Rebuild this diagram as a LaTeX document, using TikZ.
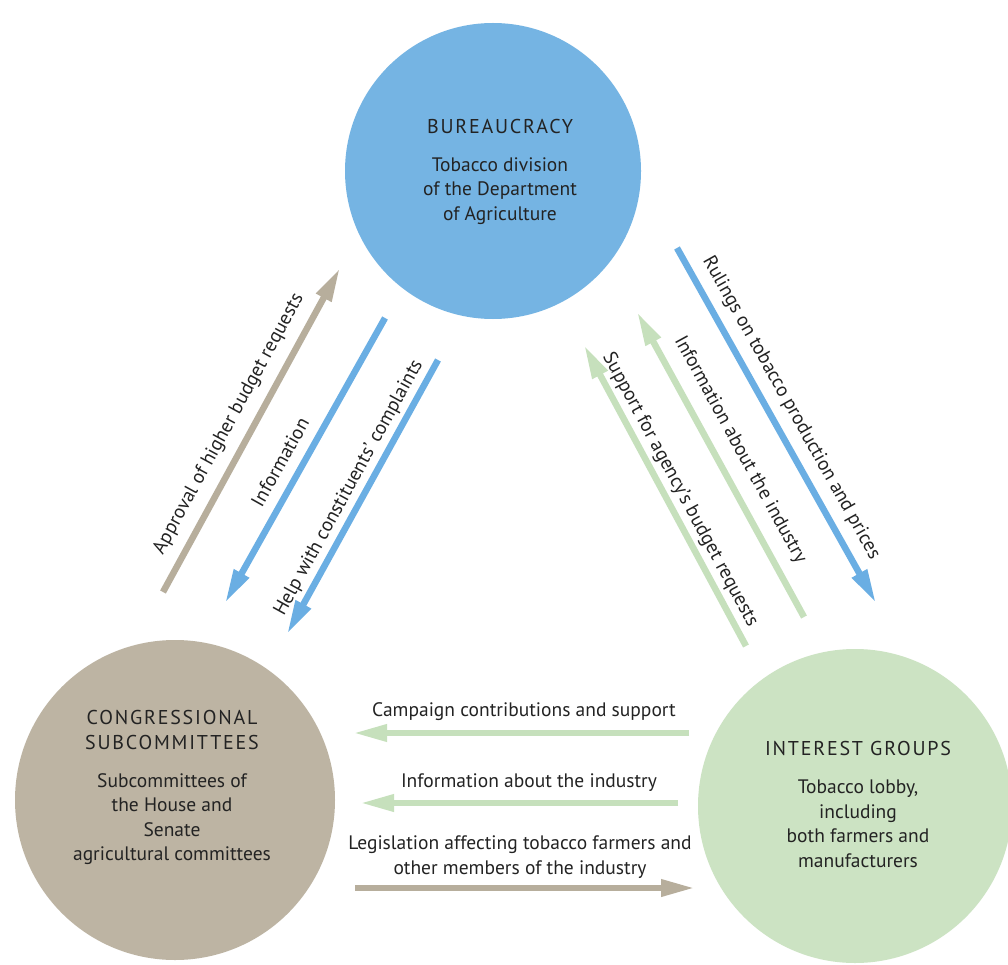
\documentclass[tikz,border=0pt]{standalone}
\usepackage{fontspec}
\setmainfont{PT Sans}
\usetikzlibrary{arrows.meta}
\definecolor{burC}{RGB}{117,180,227}
\definecolor{conC}{RGB}{189,180,163}
\definecolor{intC}{RGB}{204,227,195}
\definecolor{blueA}{RGB}{106,174,227}
\definecolor{taupeA}{RGB}{183,174,156}
\definecolor{greenA}{RGB}{198,224,188}
\definecolor{txt}{RGB}{35,35,35}
\newfontfamily\capsfont[LetterSpace=9]{PT Sans}
\tikzset{
  blob/.style={circle, inner sep=0pt, minimum size=#1},
  ttl/.style={align=center, text=txt, font=\capsfont\fontsize{20}{24.5}\selectfont},
  body/.style={align=center, text=txt, font=\fontsize{19.5}{24.5}\selectfont},
  lbl/.style={align=center, text=txt, font=\fontsize{19.5}{25}\selectfont, inner sep=0pt},
  flow/.style={line width=6.5pt, -{Triangle[length=34pt,width=16pt]}},
}
\begin{document}
\begin{tikzpicture}[x=1pt,y=-1pt]
\useasboundingbox (0,0) rectangle (1008,965);
\fill[white] (0,0) rectangle (1008,965);

% circles
\node[blob=296pt, fill=burC] (bur) at (493,171) {};
\node[blob=320pt, fill=conC] (con) at (175,800) {};
\node[blob=314pt, fill=intC] (int) at (855,806) {};

% circle texts
\node[ttl] (burT) at (500,127) {BUREAUCRACY};
\node[body] (burB) at (500,191) {Tobacco division\\of the Department\\of Agriculture};
\node[ttl] (conT) at (172,730) {CONGRESSIONAL\\SUBCOMMITTEES};
\node[body] (conB) at (172,819) {Subcommittees of\\the House and\\Senate\\agricultural committees};
\node[ttl] (intT) at (858,748) {INTEREST GROUPS};
\node[body] (intB) at (858,824) {Tobacco lobby,\\including\\both farmers and\\manufacturers};

% arrow end points
\coordinate (apS) at (163,592); \coordinate (apE) at (340,268);
\coordinate (inS) at (385,318); \coordinate (inE) at (225,603);
\coordinate (hpS) at (438,360); \coordinate (hpE) at (287,634);
\coordinate (ruS) at (677,248); \coordinate (ruE) at (876,603);
\coordinate (iiS) at (804,617); \coordinate (iiE) at (637,312);
\coordinate (suS) at (746,646); \coordinate (suE) at (584,345);
\coordinate (caS) at (689,733); \coordinate (caE) at (353,733);
\coordinate (ifS) at (678,803); \coordinate (ifE) at (360,803);
\coordinate (lgS) at (355,888); \coordinate (lgE) at (695,888);

% arrows
\draw[flow, draw=taupeA, taupeA] (apS) -- (apE);
\draw[flow, draw=blueA, blueA] (inS) -- (inE);
\draw[flow, draw=blueA, blueA] (hpS) -- (hpE);
\draw[flow, draw=blueA, blueA] (ruS) -- (ruE);
\draw[flow, draw=greenA, greenA] (iiS) -- (iiE);
\draw[flow, draw=greenA, greenA] (suS) -- (suE);
\draw[flow, draw=greenA, greenA] (caS) -- (caE);
\draw[flow, draw=greenA, greenA] (ifS) -- (ifE);
\draw[flow, draw=taupeA, taupeA] (lgS) -- (lgE);

% labels
\node[lbl, rotate=61.4] (apL) at (229,424) {Approval of higher budget requests};
\node[lbl, rotate=60.7] (inL) at (280,462) {Information};
\node[lbl, rotate=61.2] (hpL) at (349,488) {Help with constituents’ complaints};
\node[lbl, rotate=-60.7] (ruL) at (791,408) {Rulings on tobacco production and prices};
\node[lbl, rotate=-61.3] (iiL) at (740,450) {Information about the industry};
\node[lbl, rotate=-61.7] (suL) at (680,490) {Support for agency’s budget requests};
\node[lbl] (caL) at (524,712) {Campaign contributions and support};
\node[lbl] (ifL) at (529,783) {Information about the industry};
\node[lbl] (lgL) at (520,857) {Legislation affecting tobacco farmers and\\other members of the industry};
\end{tikzpicture}
\end{document}
